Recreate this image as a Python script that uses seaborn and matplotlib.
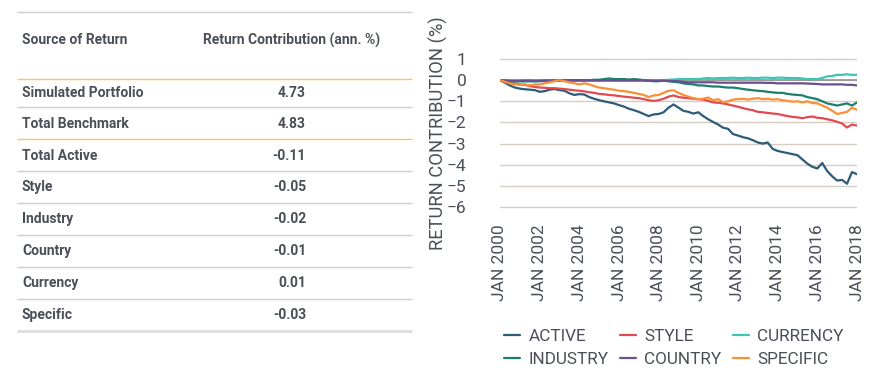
import pandas as pd
import seaborn as sns
import matplotlib.pyplot as plt
import matplotlib.dates as mdates

# table contents
table_header = ["Source of Return", "Return Contribution (ann. %)"]
table_rows = ["Simulated Portfolio", "Total Benchmark", "Total Active", "Style",
              "Industry", "Country", "Currency", "Specific"]
table_values = ["4.73", "4.83", "-0.11", "-0.05", "-0.02", "-0.01", "0.01", "-0.03"]

# quarterly cumulative return contribution (%), Jan 2000 - Jan 2018
dates = pd.date_range("2000-01-01", "2018-01-01", freq="QS")

active = [0, -0.12, -0.25, -0.35, -0.40, -0.43, -0.45, -0.47,
          -0.55, -0.52, -0.45, -0.42, -0.47, -0.50, -0.62, -0.70,
          -0.66, -0.68, -0.80, -0.88, -0.95, -1.00, -1.05, -1.10,
          -1.18, -1.25, -1.35, -1.42, -1.50, -1.60, -1.70, -1.62,
          -1.60, -1.52, -1.30, -1.15, -1.30, -1.45, -1.50, -1.58,
          -1.52, -1.70, -1.85, -1.98, -2.10, -2.25, -2.30, -2.55,
          -2.62, -2.70, -2.75, -2.84, -2.95, -3.00, -2.95, -3.25,
          -3.35, -3.40, -3.45, -3.50, -3.55, -3.75, -3.95, -4.10,
          -4.18, -3.92, -4.30, -4.55, -4.75, -4.72, -4.90, -4.35,
          -4.45]
style = [0, -0.05, -0.10, -0.15, -0.20, -0.22, -0.28, -0.32,
         -0.35, -0.36, -0.38, -0.38, -0.40, -0.42, -0.45, -0.48,
         -0.50, -0.53, -0.57, -0.60, -0.65, -0.67, -0.70, -0.72,
         -0.75, -0.78, -0.80, -0.83, -0.85, -0.90, -0.95, -0.98,
         -0.95, -0.88, -0.78, -0.72, -0.80, -0.83, -0.85, -0.88,
         -0.90, -0.92, -0.98, -1.05, -1.07, -1.10, -1.15, -1.20,
         -1.26, -1.32, -1.38, -1.42, -1.50, -1.52, -1.55, -1.58,
         -1.60, -1.65, -1.70, -1.74, -1.76, -1.80, -1.75, -1.72,
         -1.78, -1.80, -1.85, -1.90, -1.97, -2.05, -2.24, -2.10,
         -2.15]
currency = [0, -0.03, -0.05, -0.05, -0.05, -0.05, -0.05, -0.05,
            -0.05, -0.05, -0.04, -0.04, -0.03, -0.02, -0.02, -0.02,
            0, 0, 0, 0, 0, 0, 0, 0,
            0, 0, 0, 0, 0, 0, 0, 0,
            0, 0, 0.02, 0.03, 0.05, 0.05, 0.05, 0.05,
            0.05, 0.08, 0.10, 0.08, 0.10, 0.10, 0.10, 0.12,
            0.10, 0.10, 0.12, 0.10, 0.10, 0.12, 0.12, 0.10,
            0.12, 0.12, 0.10, 0.10, 0.10, 0.08, 0.05, 0.05,
            0.05, 0.10, 0.18, 0.20, 0.25, 0.25, 0.28, 0.25,
            0.25]
industry = [0, -0.02, -0.05, -0.05, -0.05, -0.05, -0.05, -0.05,
            -0.04, -0.03, -0.03, -0.02, -0.02, 0, 0, 0,
            0, 0, 0, 0.02, 0.02, 0.05, 0.08, 0.05,
            0.05, 0.05, 0.03, 0.05, 0.03, 0, -0.02, -0.05,
            -0.05, -0.02, -0.05, -0.08, -0.10, -0.15, -0.18, -0.20,
            -0.25, -0.25, -0.28, -0.30, -0.30, -0.33, -0.35, -0.35,
            -0.38, -0.42, -0.45, -0.48, -0.50, -0.52, -0.55, -0.58,
            -0.60, -0.60, -0.65, -0.68, -0.70, -0.72, -0.80, -0.85,
            -0.90, -1.00, -1.10, -1.15, -1.20, -1.15, -1.10, -1.20,
            -1.05]
country = [0, -0.02, -0.03, -0.03, -0.03, -0.02, -0.02, -0.03,
           -0.03, -0.02, -0.02, -0.02, -0.02, -0.02, -0.02, -0.02,
           -0.02, -0.02, -0.02, -0.02, -0.02, -0.02, -0.02, -0.02,
           -0.02, -0.02, -0.02, -0.02, -0.02, -0.02, -0.03, -0.03,
           -0.03, -0.03, -0.04, -0.04, -0.05, -0.08, -0.10, -0.10,
           -0.10, -0.10, -0.10, -0.10, -0.12, -0.12, -0.12, -0.12,
           -0.12, -0.12, -0.12, -0.12, -0.12, -0.12, -0.13, -0.13,
           -0.15, -0.15, -0.15, -0.15, -0.15, -0.15, -0.16, -0.17,
           -0.18, -0.20, -0.20, -0.20, -0.20, -0.20, -0.22, -0.22,
           -0.25]
specific = [0, -0.08, -0.15, -0.20, -0.22, -0.20, -0.25, -0.20,
            -0.20, -0.15, -0.10, -0.05, 0, -0.05, -0.10, -0.15,
            -0.20, -0.15, -0.20, -0.28, -0.35, -0.38, -0.42, -0.45,
            -0.50, -0.52, -0.55, -0.60, -0.65, -0.70, -0.80, -0.72,
            -0.70, -0.60, -0.50, -0.48, -0.60, -0.70, -0.78, -0.85,
            -0.90, -0.88, -0.82, -0.95, -0.90, -1.05, -1.00, -0.92,
            -0.90, -0.88, -0.92, -0.88, -0.85, -0.90, -0.88, -0.92,
            -0.90, -0.95, -0.98, -1.02, -1.00, -1.05, -1.00, -1.08,
            -1.10, -1.20, -1.30, -1.45, -1.60, -1.55, -1.50, -1.30,
            -1.40]

series_names = ["ACTIVE", "STYLE", "CURRENCY", "INDUSTRY", "COUNTRY", "SPECIFIC"]
series_values = [active, style, currency, industry, country, specific]
colors = {"ACTIVE": "#2d5b78", "STYLE": "#e04a50", "CURRENCY": "#3cc4b9",
          "INDUSTRY": "#1b7f6e", "COUNTRY": "#6a4f8f", "SPECIFIC": "#fb8f35"}

df = pd.concat([pd.DataFrame({"date": dates, "value": v, "source": n})
                for n, v in zip(series_names, series_values)], ignore_index=True)

sns.set_style("white")
plt.rcParams["font.family"] = ["Roboto", "DejaVu Sans"]
txt = "#4a4f57"

fig = plt.figure(figsize=(8.71, 3.76), dpi=100)

# ---- right: the line chart (added first)
ax = fig.add_axes([500 / 871, 1 - 213.3 / 376, 357 / 871, 160.6 / 376])
sns.lineplot(data=df, x="date", y="value", hue="source", hue_order=series_names,
             palette=colors, lw=1.6, ax=ax)

ax.set_ylim(-6.3, 1.3)
ax.set_xlim(pd.Timestamp("2000-01-01"), pd.Timestamp("2018-01-01"))
ax.set_yticks(range(-6, 2))
ax.set_axisbelow(True)
ax.yaxis.grid(True, color="#d5ccc3", linewidth=1.0)
ax.xaxis.grid(False)
ax.axhline(0, color="#8c8c8c", lw=1.1, zorder=1.5)
sns.despine(ax=ax, left=True, bottom=True)

ax.xaxis.set_major_locator(mdates.YearLocator(2))
ax.xaxis.set_major_formatter(mdates.DateFormatter("JAN %Y"))
ax.tick_params(axis="x", rotation=90, labelsize=12.5, colors=txt, length=0, pad=8)
ax.tick_params(axis="y", labelsize=12.5, colors=txt, length=0, pad=24)
ax.set_xlabel("")
ax.set_ylabel("RETURN CONTRIBUTION (%)", fontsize=13.2, color=txt, labelpad=-1)

handles, labels = ax.get_legend_handles_labels()
ax.get_legend().remove()
lookup = dict(zip(labels, handles))
order = ["ACTIVE", "INDUSTRY", "STYLE", "COUNTRY", "CURRENCY", "SPECIFIC"]
leg = fig.legend([lookup[o] for o in order], order, loc="center",
                 bbox_to_anchor=(674 / 871, 1 - 348 / 376), ncol=3, frameon=False,
                 fontsize=12.3, handlelength=0.9, handletextpad=0.5,
                 columnspacing=0.7, labelspacing=0.45)
for t in leg.get_texts():
    t.set_color(txt)

# ---- left: the table, drawn in pixel coordinates
axt = fig.add_axes([0.0, 0.0, 0.49, 1.0])
axt.set_xlim(0, 0.49 * 871)
axt.set_ylim(376, 0)
axt.axis("off")

fs = 10
axt.hlines(12, 17, 412, color="#cfcfcf", lw=1)
axt.text(22, 40, table_header[0], fontsize=fs, fontweight="bold", color=txt, va="center")
axt.text(203, 40, table_header[1], fontsize=fs, fontweight="bold", color=txt, va="center")
row_y = [93, 124, 156, 187, 219, 251, 283, 315]
for name, val, y in zip(table_rows, table_values, row_y):
    axt.text(22, y, name, fontsize=fs, fontweight="bold", color=txt, va="center")
    axt.text(306, y, val, fontsize=fs, fontweight="bold", color=txt, va="center", ha="right")
for y in [107, 171, 203, 235, 267, 299]:
    axt.hlines(y, 17, 412, color="#cfcfcf", lw=1)
for y in [79, 139]:
    axt.hlines(y, 17, 412, color="#f7c56a", lw=1)
axt.hlines(331, 17, 412, color="#dcdcdc", lw=2)

fig.savefig("out.png", dpi=100)
